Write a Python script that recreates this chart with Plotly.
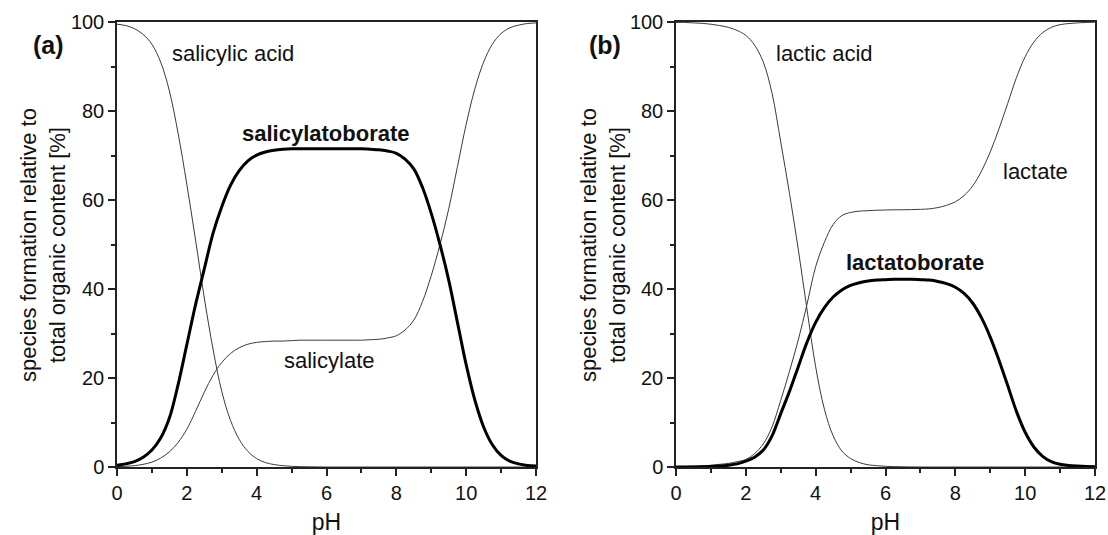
import plotly.graph_objects as go

ph = [0, 0.25, 0.5, 0.75, 1, 1.25, 1.5, 1.75, 2, 2.25, 2.5, 2.75, 3, 3.25, 3.5, 3.75,
      4, 4.25, 4.5, 4.75, 5, 5.25, 5.5, 5.75, 6, 6.25, 6.5, 6.75, 7, 7.25, 7.5, 7.75,
      8, 8.25, 8.5, 8.75, 9, 9.25, 9.5, 9.75, 10, 10.25, 10.5, 10.75, 11, 11.25, 11.5, 11.75, 12]

# panel (a)
salicylic_acid = [99.5, 99.2, 98.5, 97.2, 95, 91, 84.5, 75, 63.5, 51, 38, 26.5, 17, 10.5, 6.2, 3.5,
                  1.9, 1.0, 0.55, 0.3, 0.15, 0.08, 0.04, 0.02, 0, 0, 0, 0, 0, 0, 0, 0,
                  0, 0, 0, 0, 0, 0, 0, 0, 0, 0, 0, 0, 0, 0, 0, 0, 0]
salicylatoborate = [0.4, 0.7, 1.2, 2.2, 3.8, 6.5, 11, 18.5, 27.5, 36.5, 44.5, 52.5, 58.5, 63.3, 66.6, 68.8,
                    70.1, 70.8, 71.2, 71.4, 71.5, 71.5, 71.5, 71.5, 71.5, 71.5, 71.5, 71.5, 71.5, 71.4, 71.3, 71.0,
                    70.5, 69.2, 67, 62.8, 57, 50, 42, 32.5, 23, 15, 9, 5, 2.6, 1.3, 0.7, 0.35, 0.2]
salicylate = [0.1, 0.15, 0.3, 0.6, 1.1, 2.0, 3.4, 5.5, 8.5, 12.5, 16.8, 20.6, 23.5, 25.5, 26.8, 27.6,
              28, 28.2, 28.3, 28.3, 28.4, 28.5, 28.5, 28.5, 28.5, 28.5, 28.5, 28.5, 28.5, 28.6, 28.7, 29.0,
              29.5, 30.8, 33, 37.2, 43, 50, 58, 67.5, 77, 85, 91, 95, 97.4, 98.7, 99.3, 99.65, 99.8]

# panel (b)
lactic_acid = [99.9, 99.9, 99.8, 99.7, 99.5, 99.2, 98.8, 98.1, 97, 94.8, 91, 84, 73, 61.5, 49, 35.5,
               22.5, 13, 7, 3.6, 1.9, 1.0, 0.5, 0.3, 0.15, 0.08, 0.04, 0.02, 0, 0, 0, 0,
               0, 0, 0, 0, 0, 0, 0, 0, 0, 0, 0, 0, 0, 0, 0, 0, 0]
lactatoborate = [0, 0, 0.02, 0.05, 0.1, 0.2, 0.4, 0.7, 1.3, 2.2, 3.8, 7, 12, 17, 22.5, 28,
                 32.5, 35.8, 38.2, 39.8, 40.8, 41.4, 41.8, 42, 42.1, 42.2, 42.2, 42.2, 42.1, 42, 41.7, 41.2,
                 40.4, 39.0, 36.8, 33.5, 29.2, 24, 18.3, 12.5, 7.8, 4.5, 2.4, 1.2, 0.6, 0.35, 0.2, 0.1, 0.05]
lactate = [0.1, 0.1, 0.2, 0.25, 0.4, 0.6, 0.8, 1.2, 1.7, 3.0, 5.2, 9, 15, 21.5, 28.5, 36.5,
           45, 50.5, 54.5, 56.5, 57.2, 57.5, 57.6, 57.7, 57.75, 57.8, 57.8, 57.85, 57.9, 58, 58.3, 58.8,
           59.6, 61.0, 63.2, 66.5, 70.8, 76, 81.7, 87.5, 92.2, 95.5, 97.6, 98.8, 99.4, 99.65, 99.8, 99.9, 99.95]

x_ticks = [0, 2, 4, 6, 8, 10, 12]
y_ticks = [0, 20, 40, 60, 80, 100]

FONT = "Liberation Sans, Arial, sans-serif"
thin = dict(color="#3a3a3a", width=1, shape="spline", smoothing=1.0)
thick = dict(color="black", width=3, shape="spline", smoothing=1.0)

fig = go.Figure()
for y, ln in [(salicylic_acid, thin), (salicylate, thin), (salicylatoborate, thick)]:
    fig.add_trace(go.Scatter(x=ph, y=y, mode="lines", line=ln, xaxis="x", yaxis="y", showlegend=False, hoverinfo="skip"))
for y, ln in [(lactic_acid, thin), (lactate, thin), (lactatoborate, thick)]:
    fig.add_trace(go.Scatter(x=ph, y=y, mode="lines", line=ln, xaxis="x2", yaxis="y2", showlegend=False, hoverinfo="skip"))

W, H = 1108, 535
MINOR_X = dict(dtick=1, tick0=0, ticks="outside", ticklen=4, tickwidth=1.5, tickcolor="#222")
MINOR_Y = dict(dtick=10, tick0=0, ticks="outside", ticklen=4, tickwidth=1.5, tickcolor="#222")

def ax_common():
    return dict(showgrid=False, zeroline=False, showline=True, linecolor="#222", linewidth=1.5,
                mirror=True, ticks="outside", ticklen=7, tickwidth=1.5, tickcolor="#222",
                automargin=False, tickfont=dict(family=FONT, size=20, color="#111"))

def xtitle():
    return dict(text="pH", font=dict(family=FONT, size=23, color="#111"), standoff=14)

xa = ax_common(); xa.update(domain=[117/W, 536/W], range=[0, 12], tickvals=x_ticks, anchor="y",
                          minor=MINOR_X, title=xtitle())
xa2 = ax_common(); xa2.update(domain=[676/W, 1095/W], range=[0, 12], tickvals=x_ticks, anchor="y2",
                            minor=MINOR_X, title=xtitle())
ya = ax_common(); ya.update(domain=[1-467/H, 1-22/H], range=[0, 100], tickvals=y_ticks, anchor="x", minor=MINOR_Y)
ya2 = ax_common(); ya2.update(domain=[1-467/H, 1-22/H], range=[0, 100], tickvals=y_ticks, anchor="x2", minor=MINOR_Y)

annots = []
def lab(text, x, y, xref, yref, bold=False, size=22):
    annots.append(dict(text=f"<b>{text}</b>" if bold else text, x=x, y=y, xref=xref, yref=yref,
                       showarrow=False, font=dict(family=FONT, size=size, color="#111"),
                       xanchor="center", yanchor="middle"))

lab("salicylic acid", 3.32, 93.0, "x", "y")
lab("salicylatoborate", 5.99, 75.0, "x", "y", bold=True)
lab("salicylate", 6.07, 24.0, "x", "y")
lab("lactic acid", 4.24, 93.0, "x2", "y2")
lab("lactatoborate", 6.85, 46.0, "x2", "y2", bold=True)
lab("lactate", 10.29, 66.5, "x2", "y2")
lab("(a)", 48/W, 1-45/H, "paper", "paper", bold=True, size=25)
lab("(b)", 605/W, 1-45/H, "paper", "paper", bold=True, size=25)

for cx in (43, 603):
    annots.append(dict(text="species formation relative to<br>total organic content [%]",
                       x=cx/W, y=1-245/H, xref="paper", yref="paper", showarrow=False, textangle=-90,
                       font=dict(family=FONT, size=22, color="#111"), xanchor="center", yanchor="middle"))

fig.update_layout(width=W, height=H, margin=dict(l=0, r=0, t=0, b=0, autoexpand=False),
                  paper_bgcolor="white", plot_bgcolor="white",
                  xaxis=xa, xaxis2=xa2, yaxis=ya, yaxis2=ya2, annotations=annots)

fig.write_html("out.html")
